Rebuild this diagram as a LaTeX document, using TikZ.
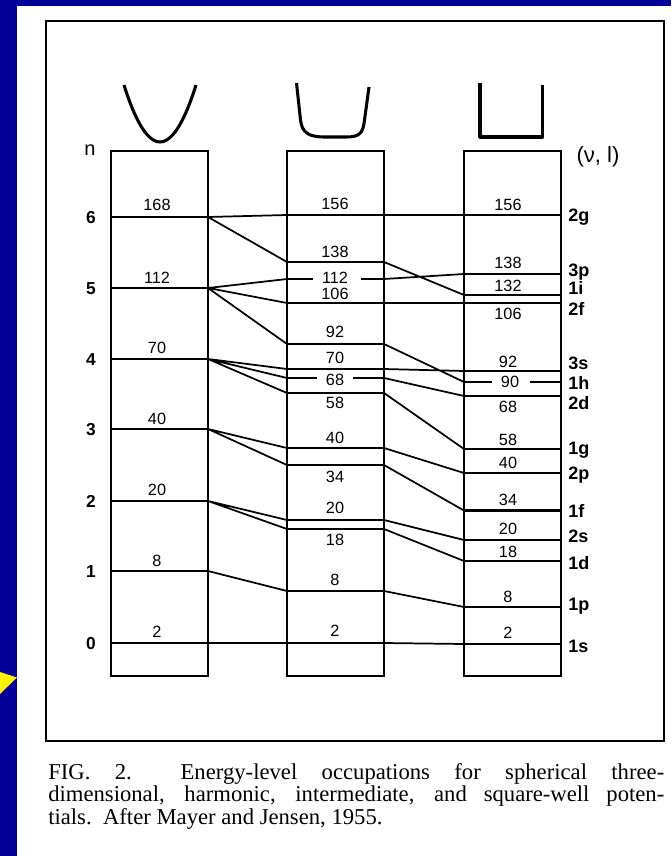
\documentclass[tikz,border=0pt]{standalone}
\usepackage{fontspec}
\setmainfont{Liberation Serif}
\newfontfamily\lsans{Liberation Sans}
\definecolor{bluebg}{RGB}{0,0,153}
\begin{document}
\begin{tikzpicture}[x=0.75pt,y=-0.75pt,
  boxline/.style={line width=2pt},
  lev/.style={line width=1.6pt},
  conn/.style={line width=1.3pt},
  pot/.style={line width=2.3pt, line join=round},
  num/.style={font=\lsans\fontsize{12.2}{12.2}\selectfont, inner sep=0pt, text height=8.7pt, text depth=0pt},
  stl/.style={font=\lsans\bfseries\fontsize{13.5}{13.5}\selectfont, inner sep=0pt, anchor=west, text height=9.6pt, text depth=0pt},
  nlab/.style={font=\lsans\bfseries\fontsize{13}{13}\selectfont, inner sep=0pt, text height=9.3pt, text depth=0pt}
]
\useasboundingbox (0,0) rectangle (671,856);
\fill[bluebg] (0,0) rectangle (671,856);
\fill[white] (17,6) rectangle (671,856);
\fill[yellow] (0,672) -- (17,677.5) -- (0,694) -- cycle;
\draw[line width=1.5pt] (46,21) rectangle (664,741);

% potentials
\draw[pot] (124,85) parabola bend (160,142) (196,85);
\draw[pot] (296.5,83) -- (300.5,120) .. controls (302,133) and (309,137) .. (325,137) -- (346,137) .. controls (360,137) and (363,133) .. (364.5,120) -- (369,87);
\draw[pot] (480,83) -- (480,137) -- (542.5,137) -- (542.5,85);

% boxes
\draw[boxline] (111,151) rectangle (208,676);
\draw[boxline] (287,151) rectangle (384,676);
\draw[boxline] (464,151) rectangle (561,676);

\node[font=\lsans\fontsize{15}{15}\selectfont, inner sep=0pt] (nhead) at (90,150) {n};
\node[font=\lsans\fontsize{16.5}{16.5}\selectfont, inner sep=0pt] (nuhead) at (598,157) {(ν, l)};

% left levels
\foreach \n/\y/\ly/\lab in {6/217/205/168,5/288/278/112,4/359/348/70,3/429/419/40,2/501/490/20,1/571/561/8,0/643/632/2}{
  \coordinate (L\n a) at (111,\y);
  \coordinate (L\n b) at (208,\y);
  \draw[lev] (L\n a) -- (L\n b);
  \node[nlab] (n\n) at (91,\y) {\n};
  \node[num] (l\lab) at (157,\ly) {\lab};
}

% middle levels
\foreach \lab/\y/\ly in {156/215/204,138/262/252,106/303/294,92/344/332,70/369/358,58/393/403,40/448/438,34/465/477,20/520/508,18/529/540,8/591/580,2/643/631}{
  \coordinate (M\lab a) at (287,\y);
  \coordinate (M\lab b) at (384,\y);
  \draw[lev] (M\lab a) -- (M\lab b);
  \node[num] (m\lab) at (335,\ly) {\lab};
}
\coordinate (M112a) at (287,279);
\coordinate (M112b) at (384,279);
\coordinate (M112c) at (313,279);
\coordinate (M112d) at (361,279);
\draw[lev] (M112a) -- (M112c) (M112d) -- (M112b);
\node[num] (m112) at (335,278) {112};
\coordinate (M68a) at (287,378);
\coordinate (M68b) at (384,378);
\coordinate (M68c) at (317,378);
\coordinate (M68d) at (353,378);
\draw[lev] (M68a) -- (M68c) (M68d) -- (M68b);
\node[num] (m68) at (335,380) {68};

% right levels
\foreach \st/\y/\lab/\ly/\sy in {2g/215/156/205/215,3p/274/138/263/270,1i/295/132/286/288,2f/303/106/314/309,3s/371/92/362/363,2d/396/68/407/403,1g/449/58/440/448,2p/473/40/463/473,1f/510.5/34/500/511,2s/540/20/529/536,1d/561/18/552/563,1p/607/8/597/604,1s/644/2/633/646}{
  \coordinate (R\st a) at (464,\y);
  \coordinate (R\st b) at (561,\y);
  \draw[lev] (R\st a) -- (R\st b);
  \node[num] (r\lab) at (508,\ly) {\lab};
  \node[stl] (s\st) at (568,\sy) {\st};
}
\coordinate (R1ha) at (464,382);
\coordinate (R1hb) at (561,382);
\coordinate (R1hc) at (492,382);
\coordinate (R1hd) at (530,382);
\draw[lev] (R1ha) -- (R1hc) (R1hd) -- (R1hb);
\node[num] (r90) at (510,382) {90};
\node[stl] (s1h) at (568,383) {1h};

% connectors left -> middle
\draw[conn] (L6b) -- (M156a) (L6b) -- (M138a)
  (L5b) -- (M112a) (L5b) -- (M106a) (L5b) -- (M92a)
  (L4b) -- (M70a) (L4b) -- (M68a) (L4b) -- (M58a)
  (L3b) -- (M40a) (L3b) -- (M34a)
  (L2b) -- (M20a) (L2b) -- (M18a)
  (L1b) -- (M8a) (L0b) -- (M2a);
% connectors middle -> right
\draw[conn] (M156b) -- (R2ga) (M138b) -- (R1ia) (M112b) -- (R3pa)
  (M106b) -- (R2fa) (M92b) -- (R1ha) (M70b) -- (R3sa) (M68b) -- (R2da)
  (M58b) -- (R1ga) (M40b) -- (R2pa) (M34b) -- (R1fa) (M20b) -- (R2sa)
  (M18b) -- (R1da) (M8b) -- (R1pa) (M2b) -- (R1sa);

% caption
\node[anchor=north west, inner sep=0pt, text width=462pt, align=justify,
  font=\fontsize{17}{16.8}\selectfont] (cap) at (48,763)
  {FIG.~2.\ \ Energy-level occupations for spherical three-\linebreak dimensional, harmonic, intermediate, and square-well poten-\linebreak tials.\ \ After Mayer and Jensen, 1955.};
\end{tikzpicture}
\end{document}
